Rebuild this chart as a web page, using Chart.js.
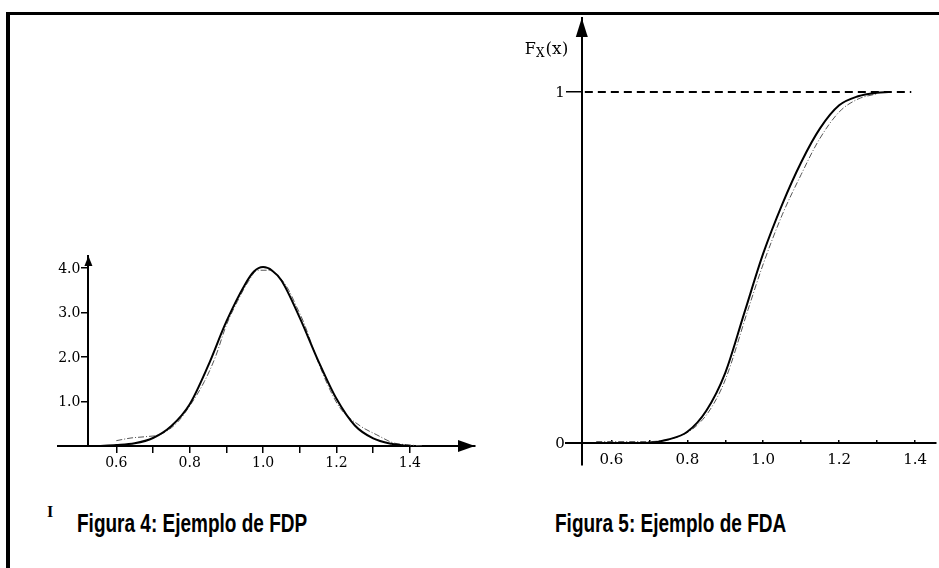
<!DOCTYPE html>
<html>
<head>
<meta charset="utf-8">
<script src="https://cdn.jsdelivr.net/npm/chart.js@4.4.1/dist/chart.umd.min.js"></script>
<style>
  html, body { margin: 0; padding: 0; background: #fff; }
  body { width: 939px; height: 568px; position: relative; overflow: hidden; }
  .frame-top { position: absolute; left: 6px; top: 12px; width: 933px; height: 3px; background: #000; }
  .frame-left { position: absolute; left: 6px; top: 12px; width: 4px; height: 556px; background: #000; }
  #pdfChart { position: absolute; left: 0; top: 230px; }
  #cdfChart { position: absolute; left: 500px; top: 0; }
  .caption { position: absolute; top: 511px; font: bold 25px "Liberation Sans", Arial, sans-serif; line-height: 25px;
             transform: scaleX(0.76); transform-origin: left top; white-space: nowrap; color: #000; }
  .stray { position: absolute; left: 47px; top: 503px; font: bold 16px "Liberation Serif", serif; color: #000; }
</style>
</head>
<body>
<div class="frame-top"></div>
<div class="frame-left"></div>
<canvas id="pdfChart" width="500" height="250"></canvas>
<canvas id="cdfChart" width="439" height="490"></canvas>
<div class="stray">I</div>
<div class="caption" style="left:77px">Figura 4: Ejemplo de FDP</div>
<div class="caption" style="left:555px">Figura 5: Ejemplo de FDA</div>

<script>
// FDP (density) - solid curve
const pdfX     = [0.55, 0.60, 0.65, 0.70, 0.75, 0.80, 0.85, 0.90, 0.95, 0.975, 1.00, 1.025, 1.05,
                  1.10, 1.15, 1.20, 1.25, 1.30, 1.35, 1.40];
const pdfSolid = [0, 0.02, 0.06, 0.18, 0.45, 0.94, 1.80, 2.80, 3.62, 3.92, 4.02, 3.94, 3.72,
                  2.88, 1.92, 1.06, 0.46, 0.17, 0.05, 0];
// FDP - dashed (estimated) curve
const pdfDashX  = [0.60, 0.64, 0.68, 0.72, 0.765, 0.80, 0.84, 0.87, 0.90, 0.93, 0.96, 0.985, 1.015, 1.047,
                   1.07, 1.09, 1.11, 1.147, 1.183, 1.21, 1.265, 1.31, 1.355, 1.39, 1.435];
const pdfDashed = [0.12, 0.18, 0.21, 0.26, 0.52, 0.90, 1.45, 2.00, 2.72, 3.25, 3.70, 3.95, 3.95, 3.77,
                   3.50, 3.15, 2.79, 1.95, 1.25, 0.85, 0.45, 0.25, 0.07, 0.03, 0];
const pdfXTicks  = [0.6, 0.7, 0.8, 0.9, 1.0, 1.1, 1.2, 1.3, 1.4];
const pdfXLabels = ['0.6', '', '0.8', '', '1.0', '', '1.2', '', '1.4'];
const pdfYTicks  = [1, 2, 3, 4];
const pdfYLabels = ['1.0', '2.0', '3.0', '4.0'];

// FDA (cumulative) - solid curve
const cdfX     = [0.53, 0.60, 0.65, 0.70, 0.75, 0.80, 0.85, 0.90, 0.95, 1.00, 1.05, 1.10, 1.15, 1.20,
                  1.25, 1.30, 1.33];
const cdfSolid = [0, 0, 0, 0.001, 0.01, 0.032, 0.092, 0.20, 0.37, 0.54, 0.68, 0.80, 0.897, 0.962,
                  0.988, 0.998, 1.0];
// FDA - dashed (estimated) curve
const cdfDashX  = [0.56, 0.70, 0.74, 0.78, 0.82, 0.86, 0.90, 0.96, 1.0, 1.05, 1.10, 1.145, 1.20, 1.25, 1.30];
const cdfDashed = [0.004, 0.004, 0.008, 0.02, 0.045, 0.095, 0.18, 0.38, 0.51, 0.65, 0.765, 0.86, 0.943, 0.98, 0.995];
// FDA - asymptote at 1
const cdfLimitX = [0.53, 1.39];
const cdfLimitY = [1, 1];
const cdfXTicks  = [0.6, 0.7, 0.8, 0.9, 1.0, 1.1, 1.2, 1.3, 1.4];
const cdfXLabels = ['0.6', '', '0.8', '', '1.0', '', '1.2', '', '1.4'];
const cdfYTicks  = [0, 1];
const cdfYLabels = ['0', '1'];

Chart.defaults.font.family = '"DejaVu Serif", "Liberation Serif", serif';
Chart.defaults.color = '#000';

function toXY(xs, ys) {
    return xs.map((x, i) => ({ x: x, y: ys[i] }));
}

// arrow heads at the ends of the axes
const arrowPlugin = {
    id: 'arrows',
    afterDraw(chart, args, opts) {
        const { ctx, chartArea, scales } = chart;
        const ax = scales.x.getPixelForValue(opts.yAxisAt);
        const ay = scales.y.getPixelForValue(0);
        ctx.save();
        ctx.fillStyle = '#000';
        if (opts.right) {
            const [len, hw] = opts.right;
            const tip = chartArea.right;
            ctx.beginPath();
            ctx.moveTo(tip, ay);
            ctx.lineTo(tip - len, ay - hw);
            ctx.lineTo(tip - len, ay + hw);
            ctx.closePath();
            ctx.fill();
        }
        if (opts.top) {
            const [len, hw] = opts.top;
            const tip = chartArea.top;
            ctx.beginPath();
            ctx.moveTo(ax, tip);
            ctx.lineTo(ax - hw, tip + len);
            ctx.lineTo(ax + hw, tip + len);
            ctx.closePath();
            ctx.fill();
        }
        ctx.restore();
    }
};

// y tick labels, placed left of the tick marks of a y axis that sits inside the plot
const yLabelPlugin = {
    id: 'yLabels',
    afterDraw(chart, args, opts) {
        const { ctx, scales } = chart;
        const ax = scales.x.getPixelForValue(opts.axisAt);
        ctx.save();
        ctx.fillStyle = '#000';
        ctx.font = opts.font;
        ctx.textAlign = 'right';
        ctx.textBaseline = 'middle';
        opts.values.forEach((v, i) => {
            ctx.fillText(opts.labels[i], ax - opts.gap, scales.y.getPixelForValue(v) + 1);
        });
        ctx.restore();
    }
};

function axisOpts(extra) {
    return Object.assign({
        type: 'linear',
        grid: { drawOnChartArea: false, color: '#000', lineWidth: 1.5 },
        border: { color: '#000', width: 2 }
    }, extra);
}

const solidStyle  = { borderColor: '#000', borderWidth: 2, pointRadius: 0, cubicInterpolationMode: 'monotone', fill: false };
const dashedStyle = { borderColor: '#555', borderWidth: 1, borderDash: [6, 2, 1, 2], pointRadius: 0, cubicInterpolationMode: 'monotone', fill: false };

// Figura 4: FDP
new Chart(document.getElementById('pdfChart'), {
    type: 'line',
    data: {
        datasets: [
            Object.assign({ data: toXY(pdfX, pdfSolid) }, solidStyle),
            Object.assign({ data: toXY(pdfDashX, pdfDashed) }, dashedStyle)
        ]
    },
    plugins: [arrowPlugin, yLabelPlugin],
    options: {
        responsive: false,
        animation: false,
        events: [],
        layout: { padding: { left: 58, right: 25, top: 26, bottom: 34 } },
        plugins: {
            legend: { display: false },
            tooltip: { enabled: false },
            arrows: { yAxisAt: 0.524, right: [17, 6], top: [10, 4] },
            yLabels: { axisAt: 0.524, gap: 8, values: pdfYTicks, labels: pdfYLabels, font: '14px "DejaVu Serif", serif' }
        },
        scales: {
            x: axisOpts({
                min: 0.4411, max: 1.5774,
                position: { y: 0 },
                afterFit: s => { s.height = 0; },
                afterBuildTicks: s => { s.ticks = pdfXTicks.map(v => ({ value: v })); },
                grid: { drawOnChartArea: false, color: '#000', lineWidth: 1.5, tickLength: 6 },
                ticks: { callback: (v, i) => pdfXLabels[i], autoSkip: false, maxRotation: 0, padding: 3, font: { size: 14 } }
            }),
            y: axisOpts({
                min: 0, max: 4.27,
                position: { x: 0.524 },
                afterFit: s => { s.width = 0; },
                afterBuildTicks: s => { s.ticks = pdfYTicks.map(v => ({ value: v })); },
                grid: { drawOnChartArea: false, color: '#000', lineWidth: 1.5, tickLength: 6 },
                ticks: { display: false }
            })
        }
    }
});

// label F_X(x) next to the vertical axis
const fxLabel = {
    id: 'fxLabel',
    afterDraw(chart) {
        const { ctx, chartArea, scales } = chart;
        const ax = scales.x.getPixelForValue(0.522);
        const base = chartArea.top + 36;
        ctx.save();
        ctx.fillStyle = '#000';
        ctx.textBaseline = 'alphabetic';
        ctx.font = '16px "DejaVu Serif", serif';
        let x = ax - 57;
        ctx.fillText('F', x, base);
        x += ctx.measureText('F').width;
        ctx.font = '12px "DejaVu Serif", serif';
        ctx.fillText('X', x, base + 3);
        x += ctx.measureText('X').width + 1;
        ctx.font = '17px "DejaVu Serif", serif';
        ctx.fillText('(x)', x, base);
        ctx.restore();
    }
};

// Figura 5: FDA
new Chart(document.getElementById('cdfChart'), {
    type: 'line',
    data: {
        datasets: [
            Object.assign({ data: toXY(cdfLimitX, cdfLimitY) }, solidStyle, { borderDash: [8, 5], cubicInterpolationMode: 'default' }),
            Object.assign({ data: toXY(cdfX, cdfSolid) }, solidStyle),
            Object.assign({ data: toXY(cdfDashX, cdfDashed) }, dashedStyle)
        ]
    },
    plugins: [arrowPlugin, fxLabel, yLabelPlugin],
    options: {
        responsive: false,
        animation: false,
        events: [],
        layout: { padding: { left: 66, right: 0, top: 18, bottom: 25 } },
        plugins: {
            legend: { display: false },
            tooltip: { enabled: false },
            arrows: { yAxisAt: 0.522, top: [19, 6] },
            yLabels: { axisAt: 0.522, gap: 17, values: cdfYTicks, labels: cdfYLabels, font: '15px "DejaVu Serif", serif' }
        },
        scales: {
            x: axisOpts({
                min: 0.4804, max: 1.4543,
                position: { y: 0 },
                afterFit: s => { s.height = 0; },
                afterBuildTicks: s => { s.ticks = cdfXTicks.map(v => ({ value: v })); },
                grid: { drawOnChartArea: false, color: '#000', lineWidth: 1.5, tickLength: -4 },
                ticks: { callback: (v, i) => cdfXLabels[i], autoSkip: false, maxRotation: 0, padding: 12, font: { size: 15 } }
            }),
            y: axisOpts({
                min: -0.0627, max: 1.2108,
                position: { x: 0.522 },
                afterFit: s => { s.width = 0; },
                afterBuildTicks: s => { s.ticks = cdfYTicks.map(v => ({ value: v })); },
                grid: { drawOnChartArea: false, color: '#000', lineWidth: 1.5, tickLength: 15 },
                ticks: { display: false }
            })
        }
    }
});
</script>
</body>
</html>
